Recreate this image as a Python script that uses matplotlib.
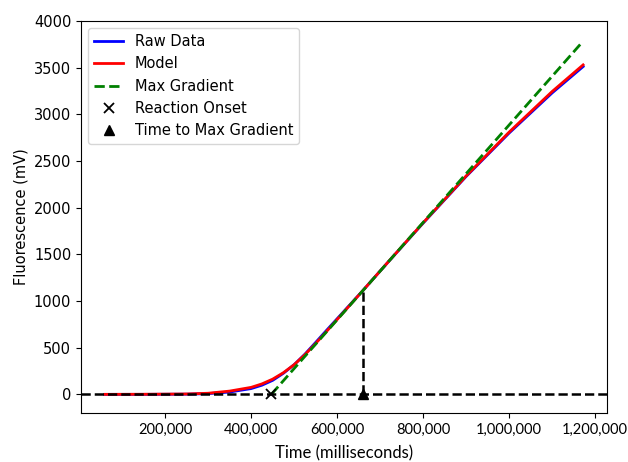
import numpy as np
import matplotlib
matplotlib.use("Agg")
import matplotlib.pyplot as plt
from matplotlib.ticker import FuncFormatter

# time (ms) and fluorescence (mV)
t_raw = [60000, 150000, 250000, 300000, 350000, 400000, 425000, 450000, 475000,
         500000, 525000, 550000, 575000, 600000, 660000, 720000, 800000, 900000,
         1000000, 1100000, 1172000]
f_raw = [0, 0, 2, 8, 25, 62, 98, 150, 226, 318, 430, 556, 684, 810, 1113, 1425,
         1835, 2335, 2800, 3230, 3512]

t_model = t_raw
f_model = [0, 1, 4, 12, 35, 75, 112, 163, 232, 318, 425, 545, 672, 802, 1113,
           1426, 1838, 2340, 2810, 3245, 3530]

onset = 447000
t_maxgrad = 660500
f_maxgrad = 1113
t_end = 1171000
f_grad_end = 3779

fig = plt.figure(figsize=(6.28, 4.62), dpi=100)
ax = fig.add_axes([0.129, 0.106, 0.8376, 0.8485])

ax.plot(t_raw, f_raw, color='blue', lw=2, label='Raw Data')
ax.plot(t_model, f_model, color='red', lw=2, label='Model')
ax.plot([onset, t_end], [0, f_grad_end], color='green', ls='--', lw=2, label='Max Gradient')
ax.axhline(0, color='black', ls='--', lw=1.8)
ax.plot([t_maxgrad, t_maxgrad], [0, f_maxgrad], color='black', ls='--', lw=1.8)
ax.plot([onset], [0], 'kx', ms=7, mew=1.3, ls='none', label='Reaction Onset')
ax.plot([t_maxgrad], [0], 'k^', ms=7, ls='none', label='Time to Max Gradient')

ax.set_ylim(-200, 4000)
ax.set_xticks([200000, 400000, 600000, 800000, 1000000, 1200000])
ax.xaxis.set_major_formatter(FuncFormatter(lambda v, p: f"{int(v):,}"))
for lab in ax.get_xticklabels():
    lab.set_fontfamily('Lato')
    lab.set_fontsize(10.5)
ax.tick_params(axis='y', labelsize=10.5)
ax.set_xlabel('Time (milliseconds)', fontfamily='Lato', fontsize=12, labelpad=6)
ax.set_ylabel('Fluorescence (mV)', fontsize=10.5)
ax.legend(loc='upper left', fontsize=10.5)

fig.savefig('out.png', dpi=100)
